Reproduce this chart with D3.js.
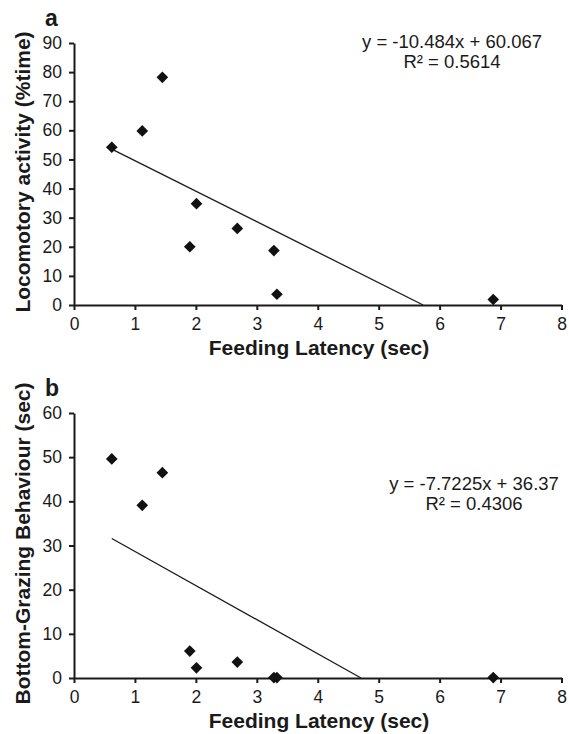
<!DOCTYPE html>
<html>
<head>
<meta charset="utf-8">
<script src="https://cdn.jsdelivr.net/npm/d3@7"></script>
<style>
  body { margin: 0; background: #fff; }
  svg text { font-family: "Liberation Sans", Arial, sans-serif; fill: #1a1a1a; }
  .axis path, .axis line { stroke: #1a1a1a; stroke-width: 2px; }
  .axis text { font-size: 17.5px; font-family: "Liberation Sans", Arial, sans-serif; }
  .title { font-size: 21px; font-weight: bold; }
  .panel { font-size: 23px; font-weight: bold; }
  .eq { font-size: 18.5px; }
</style>
</head>
<body>
<div id="chart"></div>
<script>
// datos
var latency = [0.62, 1.12, 1.45, 1.9, 2.01, 2.68, 3.28, 3.33, 6.88];
var locomotory = [54.2, 59.8, 78.2, 20, 34.8, 26.3, 18.7, 3.7, 1.9];
var grazing = [49.6, 39.1, 46.5, 6.1, 2.3, 3.6, 0.1, 0.1, 0.1];

var eqA = ["y = -10.484x + 60.067", "R\u00b2 = 0.5614"];
var eqB = ["y = -7.7225x + 36.37", "R\u00b2 = 0.4306"];
var slopeA = -10.484, interceptA = 60.067;
var slopeB = -7.7225, interceptB = 36.37;

var xTicks = [0, 1, 2, 3, 4, 5, 6, 7, 8];
var yTicksA = [0, 10, 20, 30, 40, 50, 60, 70, 80, 90];
var yTicksB = [0, 10, 20, 30, 40, 50, 60];

var svg = d3.select("#chart").append("svg")
    .attr("width", 569)
    .attr("height", 734);

var x = d3.scaleLinear().domain([0, 8]).range([74, 561.5]);

function panel(opts) {
  var y = d3.scaleLinear().domain([0, opts.ymax]).range([opts.bottom, opts.top]);

  // linea de tendencia, cortada en y = 0
  var x0 = d3.min(latency);
  var x1 = -opts.intercept / opts.slope;
  var line = d3.line()
      .x(function(d) { return x(d); })
      .y(function(d) { return y(opts.slope * d + opts.intercept); });
  svg.append("path")
    .datum([x0, x1])
    .attr("d", line)
    .attr("fill", "none")
    .attr("stroke", "#1a1a1a")
    .attr("stroke-width", 1.3);

  svg.append("g")
    .attr("class", "axis")
    .attr("transform", "translate(0," + opts.bottom + ")")
    .call(d3.axisBottom(x).tickValues(xTicks).tickSize(5).tickSizeOuter(0).tickPadding(8).tickFormat(d3.format("d")));

  svg.append("g")
    .attr("class", "axis")
    .attr("transform", "translate(" + x(0) + ",0)")
    .call(d3.axisLeft(y).tickValues(opts.yTicks).tickSize(5).tickSizeOuter(0).tickPadding(7).tickFormat(d3.format("d")));

  svg.selectAll(".axis .domain").attr("stroke-width", 2.2);

  // puntos en forma de rombo
  svg.append("g").selectAll("path")
    .data(latency)
    .join("path")
    .attr("d", d3.symbol(d3.symbolSquare, 68))
    .attr("fill", "#111")
    .attr("transform", function(d, i) {
      return "translate(" + x(d) + "," + y(opts.values[i]) + ") rotate(45)";
    });

  svg.append("text")
    .attr("class", "panel")
    .attr("x", 45)
    .attr("y", opts.top - 17)
    .text(opts.letter);

  svg.append("text")
    .attr("class", "title")
    .attr("text-anchor", "middle")
    .attr("transform", "translate(30," + ((opts.top + opts.bottom) / 2 - 2) + ") rotate(-90)")
    .text(opts.ytitle);

  svg.append("text")
    .attr("class", "title")
    .attr("text-anchor", "middle")
    .attr("x", 319)
    .attr("y", opts.bottom + 50)
    .text("Feeding Latency (sec)");

  svg.append("g").selectAll("text")
    .data(opts.eq)
    .join("text")
    .attr("class", "eq")
    .attr("text-anchor", "middle")
    .attr("x", opts.eqX)
    .attr("y", function(d, i) { return opts.eqY + i * 20; })
    .text(function(d) { return d; });
}

panel({letter: "a", values: locomotory, ymax: 90, yTicks: yTicksA, top: 43, bottom: 305,
       slope: slopeA, intercept: interceptA, eq: eqA, eqX: 452, eqY: 48,
       ytitle: "Locomotory activity (%time)"});

panel({letter: "b", values: grazing, ymax: 60, yTicks: yTicksB, top: 413, bottom: 678,
       slope: slopeB, intercept: interceptB, eq: eqB, eqX: 474, eqY: 490,
       ytitle: "Bottom-Grazing Behaviour (sec)"});
</script>
</body>
</html>
